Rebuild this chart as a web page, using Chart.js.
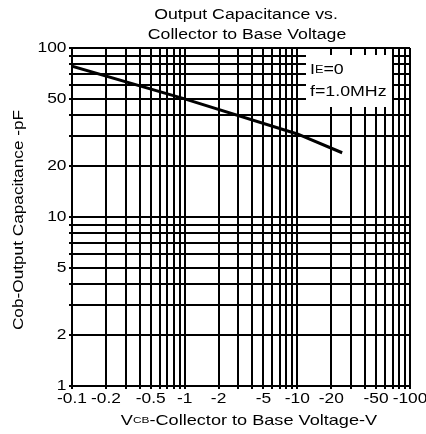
<!DOCTYPE html>
<html>
<head>
<meta charset="utf-8">
<script src="https://cdn.jsdelivr.net/npm/chart.js@4/dist/chart.umd.min.js"></script>
<style>
  html, body { margin: 0; padding: 0; background: #fff; }
</style>
</head>
<body>
<canvas id="myChart" width="426" height="434"></canvas>
<script>
const ctx = document.getElementById('myChart');

// values (|Vcb| in volts, Cob in pF)
const voltage = [0.1, 1, 10, 25];
const capacitance = [78, 50, 31, 24];

// labelled ticks
const xTickValues = [0.1, 0.2, 0.5, 1, 2, 5, 10, 20, 50, 100];
const xTickLabels = ['-0.1', '-0.2', '-0.5', '-1', '-2', '-5', '-10', '-20', '-50', '-100'];
const yTickValues = [1, 2, 5, 10, 20, 50, 100];
const yTickLabels = ['1', '2', '5', '10', '20', '50', '100'];

const FONT = '"Liberation Sans", Arial, sans-serif';
const SX = 1.24; // the datasheet lettering is wide

// full log grid 1..9 x decade
function logGrid(min, max) {
  const out = [];
  for (let d = min; d < max * 0.999; d *= 10) {
    for (let m = 1; m < 10; m++) out.push(+(m * d).toPrecision(3));
  }
  out.push(max);
  return out;
}

// draw a run of [text, size] pieces, stretched horizontally
function wideText(c, pieces, x, y, align, sx) {
  let w = 0;
  pieces.forEach(p => { c.font = p[1] + 'px ' + FONT; w += c.measureText(p[0]).width; });
  let start = align === 'center' ? -w / 2 : align === 'right' ? -w : 0;
  c.save();
  c.translate(x, y);
  c.scale(sx || SX, 1);
  c.textAlign = 'left';
  pieces.forEach(p => {
    c.font = p[1] + 'px ' + FONT;
    c.fillText(p[0], start, 0);
    start += c.measureText(p[0]).width;
  });
  c.restore();
}

const points = voltage.map((v, i) => ({ x: v, y: capacitance[i] }));

const textPlugin = {
  id: 'texts',
  afterDraw(chart) {
    const c = chart.ctx;
    const a = chart.chartArea;
    const xs = chart.scales.x, ys = chart.scales.y;
    c.save();
    c.fillStyle = '#000';
    c.textBaseline = 'middle';

    // tick labels
    xTickValues.forEach((v, i) => wideText(c, [[xTickLabels[i], 14]], xs.getPixelForValue(v), a.bottom + 13, 'center'));
    yTickValues.forEach((v, i) => wideText(c, [[yTickLabels[i], 14]], a.left - 5.5, ys.getPixelForValue(v), 'right'));

    // main title
    wideText(c, [['Output Capacitance vs.', 15.5]], 246, 14.5, 'center', 1.14);
    wideText(c, [['Collector to Base Voltage', 15.5]], 247, 35, 'center', 1.14);

    // y title
    c.save();
    c.translate(19.5, 220);
    c.rotate(-Math.PI / 2);
    wideText(c, [['Cob-Output Capacitance -pF', 14]], 0, 0, 'center', 1.23);
    c.restore();

    // x title with small "CB"
    wideText(c, [['V', 14.5], ['CB', 9.5], ['-Collector to Base Voltage-V', 14.5]], 249, 420.5, 'center', 1.25);

    // condition box
    const bx = a.right - 104, by = a.top + 7;
    c.fillStyle = '#fff';
    c.fillRect(bx, by, 86, 52);
    c.fillStyle = '#000';
    wideText(c, [['I', 14], ['E', 10], ['=0', 14]], bx + 4, by + 15.5, 'left', 1.27);
    wideText(c, [['f=1.0MHz', 14]], bx + 4, by + 37, 'left', 1.27);
    c.restore();
  }
};

const config = {
  type: 'scatter',
  data: {
    datasets: [{
      data: points,
      showLine: true,
      borderColor: '#000',
      borderWidth: 3,
      pointRadius: 0,
      tension: 0
    }]
  },
  options: {
    responsive: false,
    animation: false,
    devicePixelRatio: 1,
    layout: { padding: { top: 48, right: 16, left: 0, bottom: 0 } },
    plugins: { legend: { display: false }, tooltip: { enabled: false }, title: { display: false } },
    scales: {
      x: {
        type: 'logarithmic',
        min: 0.1,
        max: 100,
        afterBuildTicks: s => { s.ticks = logGrid(0.1, 100).map(v => ({ value: v })); },
        afterFit: s => { s.height = 48; },
        grid: { color: '#000', lineWidth: 2, tickLength: 3 },
        border: { color: '#000', width: 2 },
        ticks: { display: false, autoSkip: false }
      },
      y: {
        type: 'logarithmic',
        min: 1,
        max: 100,
        afterBuildTicks: s => { s.ticks = logGrid(1, 100).map(v => ({ value: v })); },
        afterFit: s => { s.width = 72; },
        grid: { color: '#000', lineWidth: 2, tickLength: 3 },
        border: { color: '#000', width: 2 },
        ticks: { display: false, autoSkip: false }
      }
    }
  },
  plugins: [textPlugin]
};

const chart = new Chart(ctx, config);
</script>
</body>
</html>
